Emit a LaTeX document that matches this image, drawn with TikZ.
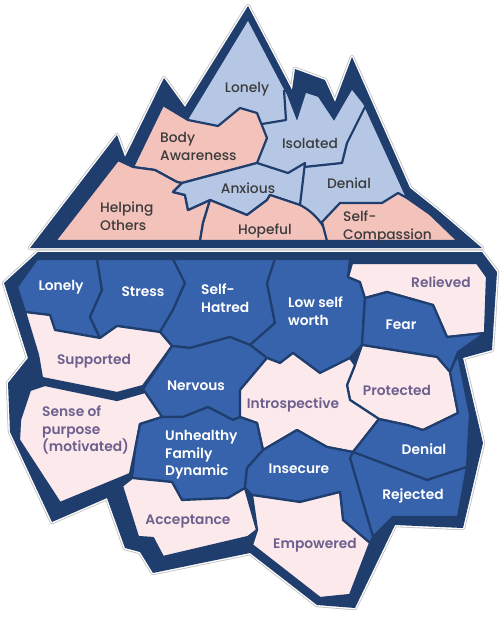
\documentclass[tikz,border=0pt]{standalone}
\usepackage{fontspec}
\setmainfont{Poppins}[BoldFont={Poppins SemiBold}]
\newfontfamily\popmed{Poppins Medium}
\definecolor{navy}{HTML}{1F3D6D}
\definecolor{topblue}{HTML}{B6C7E5}
\definecolor{toppink}{HTML}{F3C2BB}
\definecolor{topgrey}{HTML}{3B3B3B}
\definecolor{lowblue}{HTML}{3763AD}
\definecolor{lowpale}{HTML}{FBE9EB}
\definecolor{palepurple}{HTML}{6E5F8F}
\tikzset{
  berg/.style={fill=navy,
    preaction={draw=black!25,line width=4.4,line join=round},
    preaction={draw=white,line width=2.8,line join=round}},
  region/.style={draw=navy,line width=2.2,line join=round},
  tpink/.style={region,fill=toppink},
  tblue/.style={region,fill=topblue},
  lblue/.style={region,fill=lowblue},
  lpale/.style={region,fill=lowpale},
  toplbl/.style={inner sep=0,text=topgrey,font=\popmed\fontsize{13.8}{18}\selectfont,align=left},
  lowW/.style={inner sep=0,text=white,font=\bfseries\fontsize{13.8}{17.5}\selectfont,align=left},
  lowP/.style={inner sep=0,text=palepurple,font=\bfseries\fontsize{13.8}{17.5}\selectfont,align=left}
}
\begin{document}
\begin{tikzpicture}[x=1pt,y=-1pt]
\useasboundingbox (0,0) rectangle (500,639);
\fill[white] (0,0) rectangle (500,639);
% ---------- top iceberg ----------
\path[berg] (248,6) -- (292,90) -- (295,69) -- (325,80) -- (335,102) -- (352,57) -- (410,188) -- (440,212) -- (482,248) -- (30,248) -- (117,135) -- (125,157) -- (164,78) -- (185,107) -- cycle;
\path[fill=topblue] (248,21) -- (281,84) -- (287,95) -- (297,121) -- (306,93) -- (318,97) -- (334,121) -- (352,90) -- (363,104) -- (405,196) -- (430,214) -- (458,241) -- (55,241) -- (118,160) -- (133,167) -- (163,105) -- (188,120) -- cycle;
\path[tpink] (163,105) -- (188,120) -- (218,126) -- (240,108) -- (257,113) -- (267,138) -- (257,163) -- (182,183) -- (177,182) -- (155,170) -- (133,167) -- cycle;
\path[tpink] (118,160) -- (133,167) -- (155,170) -- (177,182) -- (182,183) -- (173,192) -- (185,195) -- (188,210) -- (210,200) -- (203,223) -- (200,241) -- (55,241) -- cycle;
\path[tblue] (182,183) -- (257,163) -- (288,173) -- (305,163) -- (300,205) -- (270,195) -- (267,200) -- (247,215) -- (210,200) -- (188,210) -- (185,195) -- (173,192) -- cycle;
\path[tpink] (210,200) -- (247,215) -- (267,200) -- (270,195) -- (300,205) .. controls (316,213) and (326,228) .. (330,241) -- (200,241) -- (203,223) -- cycle;
\path[tpink] (322,222) -- (340,203) -- (382,203) -- (398,193) -- (407,198) -- (430,214) -- (458,241) -- (327,241) -- cycle;
\draw[region] (365,107) -- (347,143) -- (342,163) -- (304,167);
\draw[region] (262,124) -- (286,120) -- (284,90);
% top labels
\node[toplbl] (tLonely) at (247,89) {Lonely};
\node[toplbl,anchor=west] (tBody) at (160,146) {Body\\Awareness};
\node[toplbl] (tIsolated) at (310,143) {Isolated};
\node[toplbl] (tAnxious) at (248,188) {Anxious};
\node[toplbl] (tDenial) at (349,183) {Denial};
\node[toplbl,anchor=west] (tHelping) at (100,216) {Helping\\Others};
\node[toplbl] (tHopeful) at (265,231) {Hopeful};
\node[toplbl,anchor=west] (tSelf) at (343,227) {Self-\\Compassion};
% ---------- lower iceberg ----------
\path[berg] (38,252) -- (482,252) -- (497,272) -- (492,350) -- (463,358) -- (483,443) -- (463,528) -- (395,525) -- (355,608) -- (317,605) -- (250,553) -- (153,573) -- (140,552) -- (125,548) -- (107,498) -- (52,522) -- (10,432) -- (8,383) -- (28,358) -- (4,283) -- cycle;
\path[lblue] (37,259) -- (97,259) -- (102,290) -- (90,317) -- (100,338) -- (55,330) -- (50,315) -- (25,312) -- (17,287) -- cycle;
\path[lblue] (97,259) -- (173,259) -- (185,283) -- (173,310) -- (160,332) -- (117,326) -- (100,338) -- (90,317) -- (102,290) -- cycle;
\path[lblue] (173,259) -- (275,259) -- (267,283) -- (275,323) -- (250,345) -- (230,337) -- (190,348) -- (172,346) -- (160,332) -- (173,310) -- (185,283) -- cycle;
\path[lblue] (275,259) -- (350,259) -- (348,277) -- (360,282) -- (365,298) -- (362,345) -- (350,358) -- (320,373) -- (293,353) -- (280,363) -- (267,358) -- (250,345) -- (275,323) -- (267,283) -- cycle;
\path[lpale] (352,263) -- (477,263) -- (487,277) -- (485,333) -- (447,337) -- (433,305) -- (387,292) -- (365,298) -- (360,282) -- (348,277) -- cycle;
\path[lblue] (365,298) -- (387,292) -- (433,305) -- (447,337) -- (485,333) -- (458,352) -- (450,372) -- (437,357) -- (362,345) -- cycle;
\path[lpale] (25,312) -- (50,315) -- (55,330) -- (100,338) -- (117,326) -- (160,332) -- (172,346) -- (143,386) -- (117,393) -- (42,378) -- (38,355) -- cycle;
\path[lblue] (172,346) -- (190,348) -- (230,337) -- (250,345) -- (267,358) -- (240,390) -- (240,417) -- (233,420) -- (208,407) -- (183,417) -- (162,417) -- (143,389) -- cycle;
\path[lpale] (30,390) -- (45,385) -- (117,400) -- (145,392) -- (162,417) -- (140,424) -- (135,450) -- (130,474) -- (60,503) -- (19,440) -- (20,420) -- cycle;
\path[lpale] (362,345) -- (437,357) -- (450,372) -- (458,413) -- (423,430) -- (407,425) -- (379,419) -- (350,400) -- (347,385) -- (355,365) -- cycle;
\path[lpale] (240,390) -- (267,358) -- (280,363) -- (293,353) -- (320,373) -- (350,358) -- (355,365) -- (347,385) -- (350,400) -- (379,419) -- (353,452) -- (327,447) -- (297,430) -- (263,450) -- (257,423) -- (240,417) -- cycle;
\path[lblue] (140,424) -- (162,417) -- (183,417) -- (208,407) -- (233,420) -- (240,417) -- (257,423) -- (263,450) -- (247,468) -- (245,488) -- (228,498) -- (182,500) -- (172,482) -- (132,478) -- (135,450) -- cycle;
\path[lblue] (353,452) -- (379,419) -- (407,425) -- (423,430) -- (458,413) -- (450,372) -- (458,354) -- (470,415) -- (467,467) -- (427,480) -- cycle;
\path[lblue] (353,452) -- (427,480) -- (467,467) -- (458,517) -- (393,517) -- (373,537) -- (350,458) -- cycle;
\path[lblue] (263,450) -- (297,430) -- (327,447) -- (353,452) -- (350,458) -- (373,537) -- (370,543) -- (343,520) -- (340,492) -- (300,502) -- (252,495) -- (245,488) -- (247,468) -- cycle;
\path[lpale] (252,495) -- (300,502) -- (340,492) -- (343,520) -- (370,543) -- (350,595) -- (320,598) -- (252,545) -- (257,530) -- cycle;
\path[lpale] (122,486) -- (132,478) -- (172,482) -- (182,500) -- (228,498) -- (245,488) -- (257,530) -- (248,537) -- (163,557) -- (153,538) -- (138,537) -- cycle;
% lower labels
\node[lowW] (lLonely) at (61,287) {Lonely};
\node[lowW] (lStress) at (143,292) {Stress};
\node[lowW,anchor=west] (lHatred) at (201,298) {Self-\\Hatred};
\node[lowW,anchor=west] (lWorth) at (288,311) {Low self\\worth};
\node[lowP] (lRelieved) at (441,282) {Relieved};
\node[lowW] (lFear) at (401,325) {Fear};
\node[lowP] (lSupported) at (94,361) {Supported};
\node[lowW] (lNervous) at (196,386) {Nervous};
\node[lowP] (lProtected) at (397,390) {Protected};
\node[lowP,anchor=west] (lPurpose) at (42,430) {Sense of\\purpose\\(motivated)};
\node[lowP] (lIntro) at (293,405) {Introspective};
\node[lowW,anchor=west] (lFamily) at (165,455) {Unhealthy\\Family\\Dynamic};
\node[lowW] (lDenial) at (424,449) {Denial};
\node[lowW] (lInsecure) at (299,469) {Insecure};
\node[lowW] (lRejected) at (413,496) {Rejected};
\node[lowP] (lAccept) at (188,521) {Acceptance};
\node[lowP] (lEmpower) at (315,545) {Empowered};
\end{tikzpicture}
\end{document}
